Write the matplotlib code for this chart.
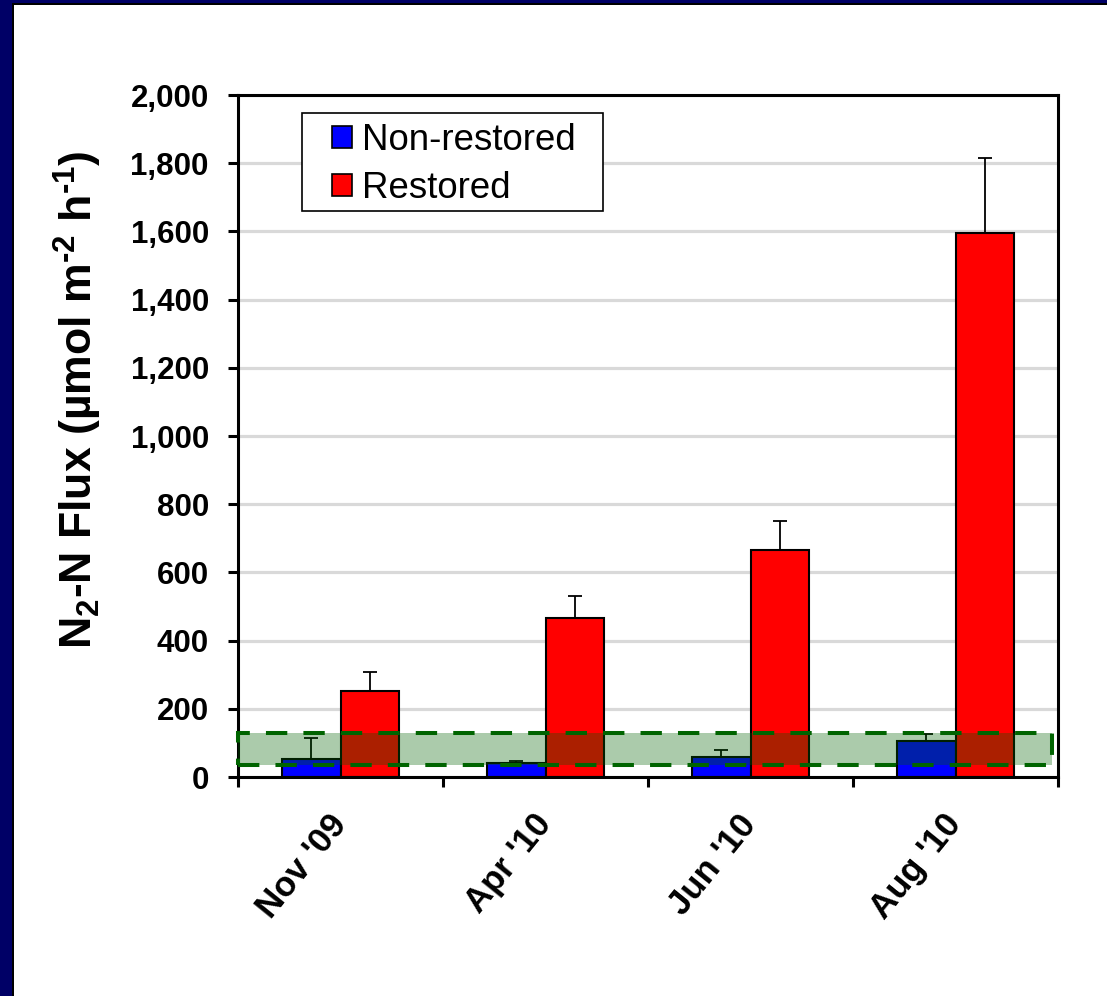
import matplotlib
matplotlib.use('Agg')
import matplotlib.pyplot as plt
from matplotlib.patches import Rectangle, Patch
from matplotlib.transforms import blended_transform_factory
from matplotlib.ticker import FuncFormatter, FixedLocator
import numpy as np

# Sampling campaigns
months = ["Nov '09", "Apr '10", "Jun '10", "Aug '10"]

# N2-N flux means and upper standard errors (µmol m-2 h-1)
non_restored = [54, 40, 59, 106]
non_restored_err = [61, 8, 21, 20]
restored = [252, 465, 667, 1594]
restored_err = [57, 66, 84, 221]

# Range highlighted across all campaigns
band_low, band_high = 34, 130

y_ticks = list(range(0, 2001, 200))
series_labels = ["Non-restored", "Restored"]

plt.rcParams['font.family'] = ['Liberation Sans', 'DejaVu Sans']
plt.rcParams['mathtext.fontset'] = 'custom'
plt.rcParams['mathtext.rm'] = 'Liberation Sans:bold'
plt.rcParams['mathtext.bf'] = 'Liberation Sans:bold'
plt.rcParams['mathtext.default'] = 'bf'

W, H = 1107, 996
fig = plt.figure(figsize=(W / 100, H / 100), dpi=100)
fig.patch.set_facecolor('white')

# Slide-style frame on the top and left edges
navy = '#000066'
fig.add_artist(Rectangle((0, 0), 12 / W, 1, transform=fig.transFigure, color=navy, lw=0))
fig.add_artist(Rectangle((12 / W, 0), 2 / W, 1 - 3 / H, transform=fig.transFigure, color='black', lw=0))
fig.add_artist(Rectangle((0, 1 - 3 / H), 1, 3 / H, transform=fig.transFigure, color=navy, lw=0))
fig.add_artist(Rectangle((12 / W, 1 - 5 / H), 1, 2 / H, transform=fig.transFigure, color='black', lw=0))

ax = fig.add_axes([238 / W, 1 - 777 / H, (1058 - 238) / W, (777 - 95) / H])

x = np.arange(len(months))
bw = 0.285
err_kw = dict(ecolor='black', elinewidth=1.3, capsize=5, capthick=1.3, zorder=3)
ax.bar(x - bw / 2, non_restored, bw, color='#0000FF', edgecolor='black', linewidth=1.5,
       yerr=[np.zeros(len(x)), non_restored_err], error_kw=err_kw, zorder=2)
ax.bar(x + bw / 2, restored, bw, color='#FF0000', edgecolor='black', linewidth=1.5,
       yerr=[np.zeros(len(x)), restored_err], error_kw=err_kw, zorder=2)

# Shaded band with dashed outline
trans = blended_transform_factory(ax.transAxes, ax.transData)
ax.add_patch(Rectangle((0, band_low), 0.993, band_high - band_low, transform=trans,
                       facecolor=(0, 0.38, 0, 0.33), edgecolor='#006400', lw=2.9,
                       linestyle=(0, (5.3, 4.0)), zorder=4, clip_on=False))

ax.set_xlim(-0.5, len(months) - 0.5)
ax.set_ylim(0, 2000)
ax.set_yticks(y_ticks)
ax.yaxis.set_major_formatter(FuncFormatter(lambda v, p: f'{int(v):,}'))
ax.yaxis.grid(True, color='#d9d9d9', lw=2.3)
ax.set_axisbelow(True)

for s in ax.spines.values():
    s.set_linewidth(2.2)
    s.set_color('black')

ax.tick_params(axis='y', direction='out', length=7, width=2.2, pad=14, labelsize=22.5)
for lab in ax.get_yticklabels():
    lab.set_fontweight('bold')

ax.set_xticks(x)
ax.set_xticklabels(months, rotation=51, ha='right', va='center', rotation_mode='anchor',
                   fontsize=25, fontweight='bold')
ax.xaxis.set_minor_locator(FixedLocator(np.arange(-0.5, len(months), 1.0)))
ax.tick_params(axis='x', which='major', length=0, pad=30)
ax.tick_params(axis='x', which='minor', direction='out', length=7, width=2.2)

fig.text(78 / W, 1 - 400 / H, r'N$_2$-N Flux (µmol m$^{\text{-2}}$ h$^{\text{-1}}$)', rotation=90,
         ha='center', va='center', fontsize=32, fontweight='bold')

# Legend with a square outlined box
ax.add_patch(Rectangle((302 / W, 1 - 211 / H), 301 / W, 98 / H, transform=fig.transFigure,
                       facecolor='white', edgecolor='black', lw=1.2, zorder=5, clip_on=False))
handles = [Patch(facecolor='#0000FF', edgecolor='black', lw=1.2),
           Patch(facecolor='#FF0000', edgecolor='black', lw=1.2)]
leg = ax.legend(handles, series_labels, loc='upper left', bbox_to_anchor=(332 / W, 1 - 123 / H),
                bbox_transform=fig.transFigure, frameon=False, borderpad=0, borderaxespad=0,
                fontsize=26.4, handlelength=0.55, handleheight=0.55, handletextpad=0.27,
                labelspacing=0.36)
leg.set_zorder(6)

fig.savefig('out.png', dpi=100)
